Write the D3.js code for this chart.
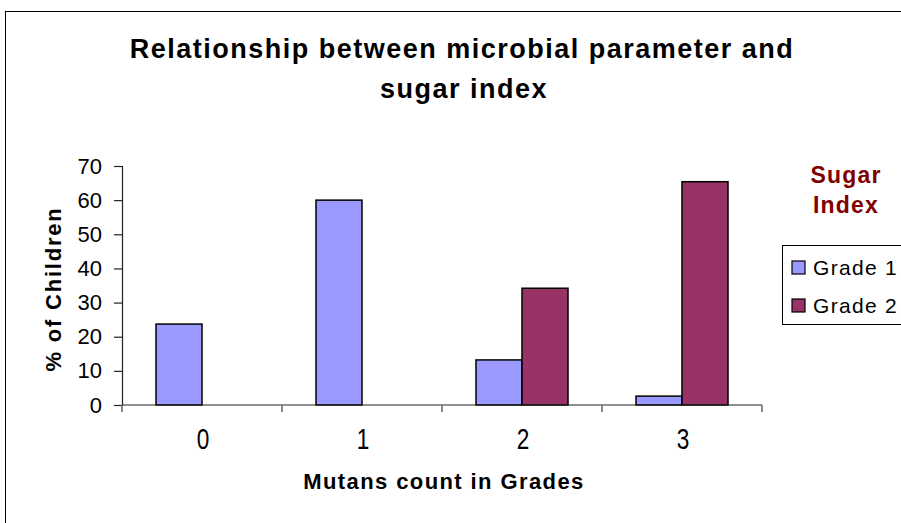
<!DOCTYPE html>
<html>
<head>
<meta charset="utf-8">
<script src="https://cdnjs.cloudflare.com/ajax/libs/d3/7.8.5/d3.min.js"></script>
<style>
  body { margin: 0; background: #fff; }
  svg { display: block; font-family: "Liberation Sans", Arial, sans-serif; }
</style>
</head>
<body>
<svg width="901" height="523"></svg>
<script>
var svg = d3.select("svg");

var width = 901,
    height = 523;

// data
var categories = ["0", "1", "2", "3"];
var seriesNames = ["Grade 1", "Grade 2"];
var grade1 = [23.7, 60, 13.2, 2.6];
var grade2 = [0, 0, 34.2, 65.4];
var yTicks = [0, 10, 20, 30, 40, 50, 60, 70];

var Grade1Color = "#9999FF";
var Grade2Color = "#993366";
var colors = [Grade1Color, Grade2Color];

var plotLeft = 122, plotRight = 762,
    plotTop = 166, plotBottom = 405;

// outer chart frame (runs off the right/bottom edge)
svg.append("rect")
    .attr("x", 5.5).attr("y", 11.5)
    .attr("width", 920).attr("height", 540)
    .attr("fill", "none")
    .attr("stroke", "#000")
    .attr("stroke-width", 1);

var x0 = d3.scaleBand()
    .domain(categories)
    .range([plotLeft, plotRight])
    .paddingInner(0)
    .paddingOuter(0);

var x1 = d3.scaleBand()
    .domain(seriesNames)
    .range([0, x0.bandwidth()])
    .paddingInner(0)
    .paddingOuter(0.739);

var y = d3.scaleLinear()
    .domain([0, 70])
    .range([plotBottom, plotTop]);

// bars
var rows = categories.map(function (c, i) {
    return [
        { cat: c, name: seriesNames[0], value: grade1[i], color: colors[0] },
        { cat: c, name: seriesNames[1], value: grade2[i], color: colors[1] }
    ];
});

svg.append("g")
    .attr("class", "bars")
    .selectAll("g")
    .data(rows)
    .enter().append("g")
    .attr("transform", function (d) { return "translate(" + x0(d[0].cat) + ",0)"; })
    .selectAll("rect")
    .data(function (d) { return d.filter(function (e) { return e.value > 0; }); })
    .enter().append("rect")
    .attr("x", function (d) { return x1(d.name); })
    .attr("y", function (d) { return y(d.value); })
    .attr("width", x1.bandwidth())
    .attr("height", function (d) { return plotBottom - y(d.value); })
    .attr("fill", function (d) { return d.color; })
    .attr("stroke", "#000")
    .attr("stroke-width", 1.5);

// y axis
var yAxis = svg.append("g")
    .attr("transform", "translate(" + plotLeft + ",0)")
    .call(d3.axisLeft(y).tickValues(yTicks).tickSize(8).tickPadding(12));
yAxis.select(".domain").attr("stroke", "#222").attr("stroke-width", 1.2);
yAxis.selectAll(".tick line").attr("stroke", "#222").attr("stroke-width", 1.2);
yAxis.selectAll("text")
    .attr("font-size", 22)
    .attr("font-family", "Liberation Sans, Arial, sans-serif")
    .attr("fill", "#000");

// x axis: ticks at category boundaries
var xAxisG = svg.append("g").attr("class", "x-axis");
xAxisG.append("line")
    .attr("x1", plotLeft).attr("x2", plotRight)
    .attr("y1", plotBottom).attr("y2", plotBottom)
    .attr("stroke", "#222").attr("stroke-width", 1.2);

var boundaries = categories.map(function (c) { return x0(c); }).concat([x0.range()[1]]);
xAxisG.selectAll("line.tick")
    .data(boundaries)
    .enter().append("line")
    .attr("class", "tick")
    .attr("x1", function (d) { return d; })
    .attr("x2", function (d) { return d; })
    .attr("y1", plotBottom)
    .attr("y2", plotBottom + 7)
    .attr("stroke", "#666")
    .attr("stroke-width", 1.5);

// category labels are drawn tall and narrow in the original
xAxisG.selectAll("text")
    .data(categories)
    .enter().append("text")
    .attr("transform", function (d) {
        return "translate(" + (x0(d) + x0.bandwidth() / 2 + 1) + ",449) scale(0.78,1)";
    })
    .attr("text-anchor", "middle")
    .attr("font-size", 29)
    .text(function (d) { return d; });

// titles
var title = svg.append("text")
    .attr("text-anchor", "middle")
    .attr("font-size", 27)
    .attr("font-weight", "bold")
    .attr("letter-spacing", 1.5);
title.append("tspan").attr("x", 462).attr("y", 58).text("Relationship between microbial parameter and");
title.append("tspan").attr("x", 464).attr("y", 98).text("sugar index");

svg.append("text")
    .attr("x", 444).attr("y", 489)
    .attr("text-anchor", "middle")
    .attr("font-size", 22)
    .attr("font-weight", "bold")
    .attr("letter-spacing", 1.4)
    .text("Mutans count in Grades");

svg.append("text")
    .attr("transform", "translate(61,289) rotate(-90)")
    .attr("text-anchor", "middle")
    .attr("font-size", 22)
    .attr("font-weight", "bold")
    .attr("letter-spacing", 1.8)
    .text("% of Children");

// legend
var legendTitle = svg.append("text")
    .attr("text-anchor", "middle")
    .attr("font-size", 23)
    .attr("font-weight", "bold")
    .attr("letter-spacing", 1.2)
    .attr("fill", "#800000");
legendTitle.append("tspan").attr("x", 846).attr("y", 183).text("Sugar");
legendTitle.append("tspan").attr("x", 846).attr("y", 213).text("Index");

svg.append("rect")
    .attr("x", 782.5).attr("y", 245.5)
    .attr("width", 140).attr("height", 79)
    .attr("fill", "#fff")
    .attr("stroke", "#000")
    .attr("stroke-width", 1);

var legendItem = svg.append("g")
    .selectAll("g")
    .data(seriesNames)
    .enter().append("g")
    .attr("transform", function (d, i) { return "translate(792," + (261 + i * 38) + ")"; });

legendItem.append("rect")
    .attr("width", 13).attr("height", 13)
    .attr("fill", function (d, i) { return colors[i]; })
    .attr("stroke", "#000")
    .attr("stroke-width", 1.2);

legendItem.append("text")
    .attr("x", 21).attr("y", 14)
    .attr("font-size", 21)
    .attr("letter-spacing", 1.3)
    .text(function (d) { return d; });
</script>
</body>
</html>
